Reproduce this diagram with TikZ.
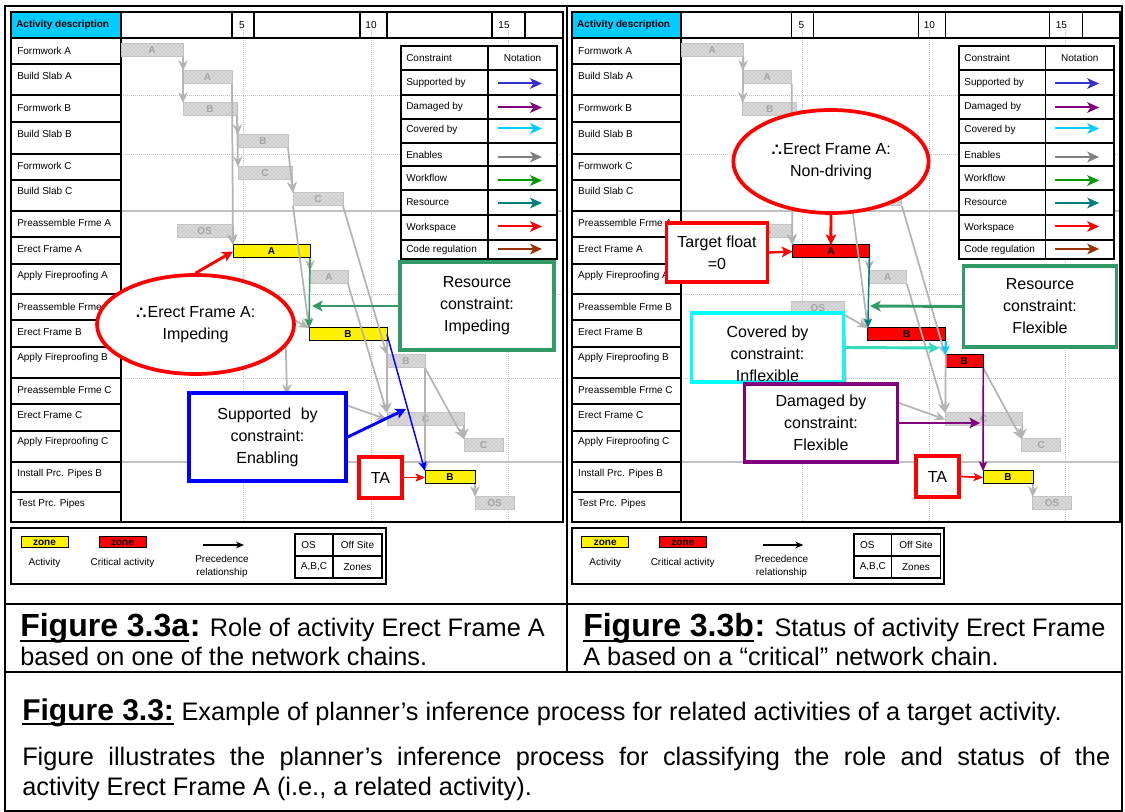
\documentclass[tikz,border=0pt]{standalone}
\usepackage{fontspec}
\setmainfont{Liberation Sans}
\usetikzlibrary{arrows.meta,shapes.geometric,patterns}

\definecolor{hdrcyan}{RGB}{0,204,255}
\definecolor{callgreen}{RGB}{51,153,102}
\definecolor{legblue}{RGB}{51,51,204}
\definecolor{purp}{RGB}{128,0,128}
\definecolor{legcyan}{RGB}{0,204,255}
\definecolor{leggray}{RGB}{128,128,128}
\definecolor{leggreen}{RGB}{0,153,0}
\definecolor{legteal}{RGB}{0,128,128}
\definecolor{legbrown}{RGB}{153,51,0}
\definecolor{boxcyan}{RGB}{0,255,255}
\definecolor{aqua}{RGB}{51,221,187}
\definecolor{barfill}{RGB}{206,206,206}
\definecolor{baredge}{RGB}{190,190,190}
\definecolor{bartext}{RGB}{165,165,165}
\definecolor{precgray}{RGB}{180,180,180}
\definecolor{gridgray}{RGB}{192,192,192}

\newcommand\smallfont{\fontsize{7.5}{9}\selectfont}
\newcommand\callfont{\fontsize{12}{16.5}\selectfont}
\newcommand\capfont{\fontsize{19}{22}\selectfont}
\newcommand\capbold{\bfseries\fontsize{22.5}{26}\selectfont}
\newcommand\capboldbig{\bfseries\fontsize{24}{28}\selectfont}
% "therefore" sign built from three full stops
\newcommand\thrf{\textbf{.\hspace{-0.07em}\raisebox{0.4em}{.}\hspace{-0.07em}.}\hspace{0.05em}}

\tikzset{
  lbl/.style={anchor=west, inner sep=0pt, font=\smallfont},
  ctr/.style={inner sep=0pt, font=\smallfont},
  barbase/.style={anchor=north west, inner sep=0pt, outer sep=0pt,
    minimum height=9.75pt, line width=0.75pt, font=\bfseries\smallfont},
  gbar/.style={barbase, draw=baredge, fill=barfill, text=bartext,
    postaction={pattern=crosshatch dots, pattern color=white}},
  ybar/.style={barbase, draw=black, fill=yellow, text=black},
  rbar/.style={barbase, draw=black, fill=red, text=black},
  prec/.style={draw=precgray, line width=1.3pt,
    -{Stealth[length=8pt,width=7pt,inset=2.5pt]}},
  gridline/.style={draw=gridgray, line width=0.6pt, dash pattern=on 0.75pt off 0.75pt},
  gridsolid/.style={draw=gridgray, line width=1pt},
  thinrule/.style={draw=black, line width=0.8pt},
  thickrule/.style={draw=black, line width=1.5pt},
  legarrow/.style={line width=1.5pt, -{Stealth[length=9pt,width=8pt,inset=2.5pt]}},
  link/.style={line width=1.1pt, -{Stealth[length=7pt,width=6pt,inset=1.5pt]}},
  callbox/.style={draw, fill=white, line width=2.6pt, inner sep=0pt,
    align=center, font=\callfont},
  callarrow/.style={line width=2.2pt, -{Stealth[length=8pt,width=8pt,inset=2pt]}},
  frame/.style={draw=black, line width=1.9pt},
  zonebox/.style={draw=black, line width=0.75pt, minimum width=35.25pt,
    minimum height=8.25pt, inner sep=0pt, font=\bfseries\smallfont},
  capnode/.style={anchor=base west, inner sep=0pt, font=\capfont},
}

% bar: style, name, x start, x end, y top, label
\newcommand\gantt[6]{\node[#1, minimum width={(#4-(#3))*0.75pt}] (#2) at (#3,#5) {#6};}
% box by corners: style, name, x1, y1, x2, y2, text
\newcommand\boxnode[7]{\node[#1, minimum width={(#5-(#3))*0.75pt},
  minimum height={(#6-(#4))*0.75pt}] (#2) at ({(#3+#5)/2},{(#4+#6)/2}) {#7};}

% schedule common to both panels
% #1,#2,#3: styles of the bars Erect Frame A, Erect Frame B, Apply Fireproofing B
% #4,#5,#6: zone letters of Build Slab B, Formwork C, Preassemble Frme B
%           (left blank where a call-out covers the bar)
\newcommand\chartbase[6]{%
  % grid of the time scale
  \foreach \gx in {243.5,371,508} \draw[gridline] (\gx,30) -- (\gx,521);
  \foreach \gy in {95,154,294,378} \draw[gridline] (121,\gy) -- (563,\gy);
  \foreach \gy in {211,462} \draw[gridsolid] (121,\gy) -- (563,\gy);
  % activity column and header
  \fill[hdrcyan] (11,12) rectangle (121,38);
  \foreach \ry in {64,122,180,237,264,320,347,404,431,492}
    \draw[thinrule] (11,\ry) -- (121,\ry);
  \foreach \ry in {95,154,211,294,378,462}
    \draw[thickrule] (11,\ry) -- (121,\ry);
  \foreach \cx in {232,254,360,387,492,525} \draw[thinrule] (\cx,12) -- (\cx,38);
  \draw[thickrule] (11,38) -- (563,38);
  \draw[thickrule] (121,12) -- (121,522);
  \draw[thickrule] (11,12) rectangle (563,522);
  \node[lbl, font=\bfseries\smallfont] (head) at (16,25) {Activity description};
  \node[ctr] (d5) at (242,25) {5};
  \node[ctr] (d10) at (371,25) {10};
  \node[ctr] (d15) at (504,25) {15};
  \foreach \t/\y [count=\i] in {Formwork A/51, Build Slab A/76, Formwork B/108,
      Build Slab B/134, Formwork C/166, Build Slab C/191, Preassemble Frme A/223,
      Erect Frame A/249, Apply Fireproofing A/276, Preassemble Frme B/307,
      Erect Frame B/332, Apply Fireproofing B/358, Preassemble Frme C/390,
      Erect Frame C/415, Apply Fireproofing C/442, Install Prc. Pipes B/474,
      Test Prc. Pipes/504}
    \node[lbl] (act\i) at (17,\y) {\t};
  % bars
  \gantt{gbar}{fa}{121}{183}{44}{A}
  \gantt{gbar}{bsa}{183}{232}{71}{A}
  \gantt{gbar}{fb}{183}{237}{103}{B}
  \gantt{gbar}{bsb}{238}{288}{135}{#4}
  \gantt{gbar}{fc}{238}{292}{167}{#5}
  \gantt{gbar}{bsc}{293}{343}{193}{C}
  \gantt{gbar}{osa}{177}{232}{225}{OS}
  \gantt{#1}{efa}{233}{310}{245}{A}
  \gantt{gbar}{afa}{310}{348}{271}{A}
  \gantt{gbar}{osb}{232}{285}{302}{#6}
  \gantt{#2}{efb}{309}{387}{328}{B}
  \gantt{#3}{afb}{387}{425}{355}{B}
  \gantt{gbar}{osc}{287}{336}{395}{}
  \gantt{gbar}{efc}{387}{464}{413}{C}
  \gantt{gbar}{afc}{464}{503}{439}{C}
  \gantt{ybar}{ipb}{425}{475}{471}{B}
  \gantt{gbar}{tp}{475}{514}{497}{OS}
  % precedence relationships
  \draw[prec] (fa.south east) -- (bsa.north west);
  \draw[prec] (fa.south east) -- (fb.north west);
  \draw[prec] (bsa.south east) -- (efa.north west);
  \draw[prec] (fb.south east) -- (bsb.north west);
  \draw[prec] (fb.south east) -- (fc.north west);
  \draw[prec] (bsb.south east) -- (bsc.north west);
  \draw[prec] (fc.south east) -- (bsc.north west);
  \draw[prec] (bsc.south west) -- (efb.north west);
  \draw[prec] (osa.south east) -- (efa.north west);
  \draw[prec] (efa.south east) -- (afa.north west);
  \draw[prec] (osb.south east) -- (efb.north west);
  \draw[prec] (osb.south east) -- (osc.north west);
  \draw[prec] (osc.east) -- (efc.west);
  \draw[prec] (bsc.south east) -- (afb.north west);
  \draw[prec] (afa.south east) -- (efc.north west);
  \draw[prec] (efb.south east) -- (efc.north west);
  \draw[prec] (afb.south east) -- (ipb.north west);
  \draw[prec] (afb.south east) -- (afc.north west);
  \draw[prec] (efc.south east) -- (afc.north west);
  \draw[prec] (ipb.south east) -- (tp.north west);
  % constraint notation table
  \draw[line width=1.5pt, fill=white] (401,46) rectangle (557,259);
  \draw[line width=1.5pt] (401,70) -- (557,70);
  \foreach \ry in {95,119,143,166,190,215,240} \draw[line width=1.1pt] (401,\ry) -- (557,\ry);
  \draw[line width=1.1pt] (488,46) -- (488,259);
  \node[lbl] (chd) at (406,58) {Constraint};
  \node[ctr] (nhd) at (522.5,58) {Notation};
  \foreach \nm/\col/\yy/\ay [count=\i] in {Supported by/legblue/82.5/83.5,
      Damaged by/purp/107/107.5, Covered by/legcyan/130/128.5,
      Enables/leggray/154.5/157, Workflow/leggreen/178/180.5,
      Resource/legteal/202.5/203, Workspace/red/227.5/226.5,
      Code regulation/legbrown/250/249}
    {\node[lbl] (ct\i) at (406,\yy) {\nm};
     \draw[legarrow, draw=\col] (498,\ay) -- (542,\ay);}
  % legend of symbols
  \draw[line width=1.5pt] (11,528) rectangle (386,584);
  \node[zonebox, fill=yellow] (zy) at (44.5,542.5) {zone};
  \node[zonebox, fill=red] (zr) at (122.5,542.5) {zone};
  \node[ctr] (la) at (44.5,563) {Activity};
  \node[ctr] (lc) at (122.5,563) {Critical activity};
  \coordinate (pa) at (203,545);
  \coordinate (pb) at (244,545);
  \draw[line width=0.8pt, -{Stealth[length=6pt,width=5pt]}] (pa) -- (pb);
  \node[ctr] (lp1) at (222,559) {Precedence};
  \node[ctr] (lp2) at (222,573) {relationship};
  \draw[line width=1pt] (295,534) rectangle (382,578);
  \draw[line width=1pt] (333,534) -- (333,578);
  \draw[line width=1pt] (295,556) -- (382,556);
  \node[lbl] (los) at (301,545) {OS};
  \node[ctr] (loff) at (357.5,545) {Off Site};
  \node[ctr] (labc) at (314,567) {A,B,C};
  \node[ctr] (lz) at (357.5,567) {Zones};
}

\begin{document}
\begin{tikzpicture}[x=0.75pt, y=-0.75pt]
\useasboundingbox (0,0) rectangle (1125,812);
\fill[white] (0,0) rectangle (1125,812);

% ---------- panel a: role of Erect Frame A ----------
\begin{scope}[name prefix=L-]
  \chartbase{ybar}{ybar}{gbar}{B}{C}{}
  \draw[link, draw=callgreen] (efa.south east) -- (efb.north west);
  \draw[link, draw=blue] (efb.east) -- (ipb.north west);
  \node[ellipse, draw=red, line width=2.8pt, fill=white, inner sep=0pt,
    minimum width=147.75pt, minimum height=74.25pt, align=center, font=\callfont]
    (ell) at (195.5,324.5) {\thrf Erect Frame A:\\Impeding};
  \draw[callarrow, draw=red] (ell.north) -- (efa.west);
  \boxnode{callbox, draw=callgreen}{res}{400}{262}{554}{350}{Resource\\constraint:\\Impeding}
  \coordinate (restip) at (312,306);
  \draw[callarrow, draw=callgreen] (res.west) -- (restip);
  \boxnode{callbox, draw=blue}{sup}{189}{393}{346}{481}{Supported\hspace{0.6em}by\\constraint:\\Enabling}
  \coordinate (suptip) at (406,409);
  \draw[callarrow, draw=blue] (sup.east) -- (suptip);
  \boxnode{callbox, draw=red}{ta}{359}{457}{402}{498}{TA}
  \draw[link, draw=red, line width=1.3pt] (ta.east) -- (ipb.west);
\end{scope}

% ---------- panel b: status of Erect Frame A ----------
\begin{scope}[shift={(561.08,0)}, xscale=0.99275, name prefix=R-]
  \chartbase{rbar}{rbar}{rbar}{}{}{OS}
  \draw[link, draw=legteal] (efa.south east) -- (efb.north west);
  \draw[link, draw=legcyan, line width=1.5pt] (efb.south east) -- (afb.north west);
  \draw[link, draw=purp] (afb.south east) -- (ipb.north west);
  \node[ellipse, draw=red, line width=2.8pt, fill=white, inner sep=0pt,
    minimum width=146.5pt, minimum height=77.25pt, align=center, font=\callfont]
    (ell) at (271.9,161.5) {\thrf Erect Frame A:\\Non-driving};
  \draw[callarrow, draw=red] (ell.south) -- (efa.north);
  \boxnode{callbox, draw=red}{tgt}{106.7}{223}{207.4}{282}{Target float\\=0}
  \draw[callarrow, draw=red, line width=1.8pt] (tgt.east) -- (efa.west);
  \boxnode{callbox, draw=callgreen}{res}{405.9}{266}{559}{347}{Resource\\constraint:\\Flexible}
  \coordinate (restip) at (311.2,306);
  \draw[callarrow, draw=callgreen] (res.west) -- (restip);
  \boxnode{callbox, draw=boxcyan}{cov}{131.9}{313}{284}{382}{}
  \boxnode{callbox, draw=purp}{dam}{185.3}{384}{338.4}{462}{Damaged by\\constraint:\\Flexible}
  \node[align=center, inner sep=0pt, font=\callfont] (covtxt) at ([yshift=-4.5pt]cov.center)
    {Covered by\\constraint:\\Inflexible};
  \coordinate (covtip) at (381,348);
  \draw[callarrow, draw=aqua] (cov.east) -- (covtip);
  \coordinate (damtip) at (422,423);
  \draw[callarrow, draw=purp] (dam.east) -- (damtip);
  \boxnode{callbox, draw=red}{ta}{357.5}{456}{400.8}{497}{TA}
  \draw[link, draw=red, line width=1.3pt] (ta.east) -- (ipb.west);
\end{scope}

% ---------- outer frame ----------
\draw[frame] (5,6) rectangle (1122,811);
\draw[frame] (567,6) -- (567,672);
\draw[frame] (5,604) -- (1122,604);
\draw[frame] (5,672) -- (1122,672);

% ---------- captions ----------
\node[capnode, font=\capboldbig] (figa) at (20,637) {Figure 3.3a};
\draw[line width=2pt] ([yshift=-3pt]figa.base west) -- ([yshift=-3pt]figa.base east);
\node[capnode] (capa) at (figa.base east) {{\capboldbig:} Role of activity Erect Frame A};
\node[capnode] (capa2) at (20,665) {based on one of the network chains.};

\node[capnode, font=\capboldbig] (figb) at (583,637) {Figure 3.3b};
\draw[line width=2pt] ([yshift=-3pt]figb.base west) -- ([yshift=-3pt]figb.base east);
\node[capnode] (capb) at (figb.base east) {{\capboldbig:} Status of activity Erect Frame};
\node[capnode] (capb2) at (583,665) {A based on a “critical” network chain.};

\node[capnode, font=\capbold] (fig3) at (22,720) {Figure 3.3:};
\draw[line width=2pt] ([yshift=-3pt]fig3.base west) -- ([yshift=-3pt]fig3.base east);
\node[capnode] (cap3) at (fig3.base east)
  {\hspace{0.28em}Example of planner’s inference process for related activities of a target activity.};
\node[capnode] (body1) at (22,765)
  {\makebox[816pt][s]{Figure illustrates the planner’s inference process for classifying the role and status of the}};
\node[capnode] (body2) at (22,795) {activity Erect Frame A (i.e., a related activity).};
\end{tikzpicture}
\end{document}
